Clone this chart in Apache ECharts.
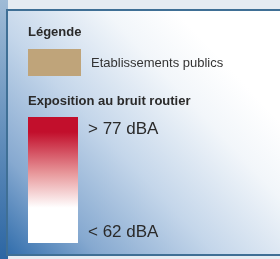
<!DOCTYPE html>
<html><head><meta charset="utf-8">
<script src="https://cdn.jsdelivr.net/npm/echarts@6/dist/echarts.min.js"></script>
<style>html,body{margin:0;padding:0;background:#fff}#c{width:280px;height:259px}</style>
</head><body><div id="c"></div>
<script>
const legendTitle = 'Légende';
const categories = ['Etablissements publics'];
const categoryColors = ['#bfa47a'];
const scaleTitle = 'Exposition au bruit routier';
const scaleLabels = ['> 77 dBA', '< 62 dBA'];
const scaleColors = ['#c20f2c', '#e8999c', '#ffffff'];

const chart = echarts.init(document.getElementById('c'), null, {renderer: 'canvas'});
const font = 'Liberation Sans, Arial, sans-serif';
const elements = [
  {type: 'rect', shape: {x: 0, y: 0, width: 280, height: 259}, style: {fill: '#e6ecf2'}},
  {type: 'rect', shape: {x: 0, y: 0, width: 8, height: 259}, style: {fill: {type: 'linear', x: 0, y: 0, x2: 0, y2: 1, colorStops: [{offset: 0, color: '#9fbbd6'}, {offset: 1, color: '#2c66a3'}]}}},
  {type: 'rect', shape: {x: 7, y: 10, width: 276, height: 245},
    style: {fill: {type: 'linear', x: 0, y: 1, x2: 0.9, y2: 0.05, colorStops: [
      {offset: 0, color: '#2f6cab'}, {offset: 0.2, color: '#86a9d0'}, {offset: 0.45, color: '#c4d6ea'}, {offset: 0.7, color: '#f2f6fa'}, {offset: 0.85, color: '#ffffff'}, {offset: 1, color: '#ffffff'}]},
      stroke: '#3f6f95', lineWidth: 2}},
  {type: 'text', style: {x: 28, y: 32, text: legendTitle, font: 'bold 13px ' + font, fill: '#2a2a2a', verticalAlign: 'middle'}}
];
categories.forEach((c, i) => {
  elements.push({type: 'rect', shape: {x: 28, y: 49 + i * 30, width: 53, height: 27}, style: {fill: categoryColors[i]}});
  elements.push({type: 'text', style: {x: 91, y: 63 + i * 30, text: c, font: '13px ' + font, fill: '#333', verticalAlign: 'middle'}});
});
elements.push({type: 'text', style: {x: 28, y: 101, text: scaleTitle, font: 'bold 13px ' + font, fill: '#2a2a2a', verticalAlign: 'middle'}});
elements.push({type: 'rect', shape: {x: 28, y: 117, width: 50, height: 126},
  style: {fill: {type: 'linear', x: 0, y: 0, x2: 0, y2: 1, colorStops: [
    {offset: 0, color: scaleColors[0]}, {offset: 0.12, color: scaleColors[0]}, {offset: 0.45, color: scaleColors[1]}, {offset: 0.72, color: scaleColors[2]}, {offset: 1, color: scaleColors[2]}]}}});
elements.push({type: 'text', style: {x: 88, y: 129, text: scaleLabels[0], font: '17px ' + font, fill: '#2a2a2a', verticalAlign: 'middle'}});
elements.push({type: 'text', style: {x: 88, y: 232, text: scaleLabels[1], font: '17px ' + font, fill: '#2a2a2a', verticalAlign: 'middle'}});

chart.setOption({animation: false, graphic: {elements}});
</script></body></html>
